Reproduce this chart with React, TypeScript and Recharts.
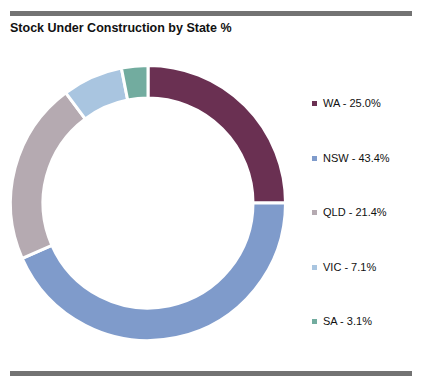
import React from "react";
import { PieChart, Pie, Cell, Legend } from "recharts";

const states = ["WA", "NSW", "QLD", "VIC", "SA"];
const shares = [25.0, 43.4, 21.4, 7.1, 3.1];
const colors = ["#6a3052", "#7f9bcb", "#b5aab1", "#a9c5e0", "#72ac9f"];

const data = states.map((s, i) => ({ name: s, value: shares[i] }));

const LegendContent = () => (
  <div style={{ fontFamily: "'Liberation Sans', Arial, sans-serif", fontSize: 11, color: "#111" }}>
    {data.map((d, i) => (
      <div key={d.name} style={{ height: 54.5, display: "flex", alignItems: "flex-start" }}>
        <span
          style={{
            display: "inline-block",
            width: 5,
            height: 5,
            background: colors[i],
            marginTop: 4,
            marginRight: 6,
          }}
        />
        <span>{`${d.name} - ${d.value.toFixed(1)}%`}</span>
      </div>
    ))}
  </div>
);

export default function App() {
  return (
    <div style={{ position: "absolute", left: 0, top: 0, width: 421, height: 383, background: "#fff" }}>
      <div style={{ position: "absolute", left: 10, top: 11, width: 402, height: 5, background: "#737373" }} />
      <div
        style={{
          position: "absolute",
          left: 10,
          top: 21,
          fontFamily: "'Liberation Sans', Arial, sans-serif",
          fontSize: 12.5,
          fontWeight: 700,
          color: "#111",
          whiteSpace: "nowrap",
        }}
      >
        Stock Under Construction by State %
      </div>
      <div style={{ position: "absolute", left: 10, top: 371, width: 402, height: 5, background: "#737373" }} />
      <div style={{ position: "absolute", left: 0, top: 0 }}>
        <PieChart width={421} height={383} margin={{ top: 0, right: 0, bottom: 0, left: 0 }}>
          <Pie
            data={data}
            dataKey="value"
            nameKey="name"
            cx={148}
            cy={203}
            innerRadius={105}
            outerRadius={137.5}
            startAngle={90}
            endAngle={-270}
            stroke="#ffffff"
            strokeWidth={3}
            isAnimationActive={false}
          >
            {data.map((d, i) => (
              <Cell key={d.name} fill={colors[i]} />
            ))}
          </Pie>
          <Legend
            content={<LegendContent />}
            layout="vertical"
            wrapperStyle={{ position: "absolute", left: 312, top: 97, width: 100 }}
          />
        </PieChart>
      </div>
    </div>
  );
}
